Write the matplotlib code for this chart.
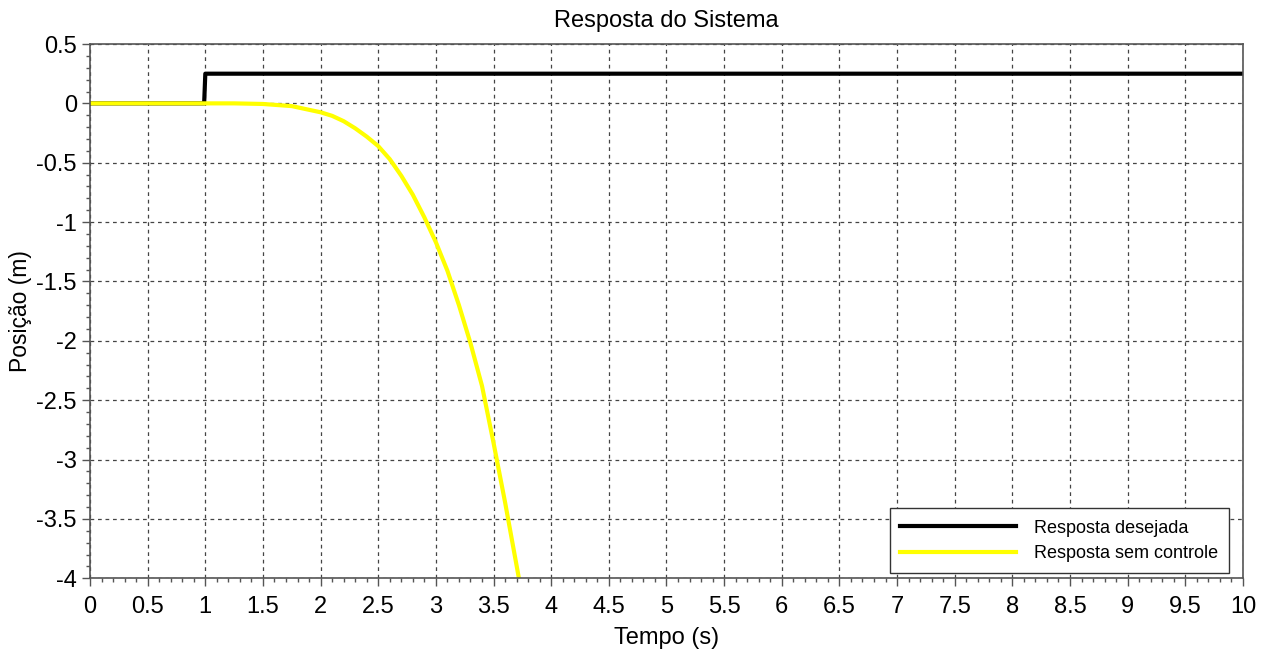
import matplotlib
matplotlib.use("Agg")
import matplotlib.pyplot as plt
from matplotlib.ticker import MultipleLocator, FormatStrFormatter

plt.rcParams['font.family'] = ['Liberation Sans', 'DejaVu Sans']

# resposta desejada (degrau em t=1)
t_des = [0, 0.99, 1.0, 10]
y_des = [0, 0, 0.25, 0.25]

# resposta sem controle
t_sem = [0, 0.5, 1.0, 1.25, 1.5, 1.75, 2.0, 2.1, 2.2, 2.3, 2.4, 2.5, 2.6, 2.7,
         2.8, 2.9, 3.0, 3.1, 3.2, 3.3, 3.4, 3.5, 3.6, 3.72]
y_sem = [0, 0, 0, 0, -0.005, -0.023, -0.075, -0.105, -0.15, -0.21, -0.28, -0.36,
         -0.47, -0.61, -0.77, -0.96, -1.17, -1.41, -1.70, -2.02, -2.38, -2.86,
         -3.36, -4.0]

fig = plt.figure(figsize=(12.66, 6.54), dpi=100)
ax = fig.add_axes([0.0711, 0.1158, 0.9107, 0.8169])

ax.plot(t_des, y_des, color='black', lw=3.0, label='Resposta desejada')
ax.plot(t_sem, y_sem, color='#ffff00', lw=3.0, label='Resposta sem controle',
        solid_joinstyle='round')

ax.set_xlim(0, 10)
ax.set_ylim(-4, 0.5)
ax.xaxis.set_major_locator(MultipleLocator(0.5))
ax.xaxis.set_minor_locator(MultipleLocator(0.1))
ax.yaxis.set_major_locator(MultipleLocator(0.5))
ax.yaxis.set_minor_locator(MultipleLocator(0.1))
ax.xaxis.set_major_formatter(FormatStrFormatter('%g'))
ax.yaxis.set_major_formatter(FormatStrFormatter('%g'))

ax.grid(True, which='major', color='#444444', lw=0.9, linestyle=(0, (3, 3)))
ax.tick_params(which='major', direction='out', length=6, width=1, color='#555555',
               labelsize=17)
ax.tick_params(axis='x', which='major', pad=7)
ax.tick_params(which='minor', direction='out', length=3, width=1, color='#555555')
for sp in ax.spines.values():
    sp.set_color('#555555')
    sp.set_linewidth(1.2)

ax.set_title('Resposta do Sistema', fontsize=17, pad=12)
ax.set_xlabel('Tempo (s)', fontsize=17, labelpad=6)
ax.set_ylabel('Posição (m)', fontsize=16.5, labelpad=3)

leg = ax.legend(loc='lower right', bbox_to_anchor=(0.9879, 0.0093), borderaxespad=0,
                fontsize=13, handlelength=6.4, fancybox=False, framealpha=1,
                edgecolor='#333333', borderpad=0.6, labelspacing=0.45, handletextpad=1.0,
                handleheight=0.9)
leg.get_frame().set_linewidth(1.0)

fig.savefig('out.png', dpi=100)
